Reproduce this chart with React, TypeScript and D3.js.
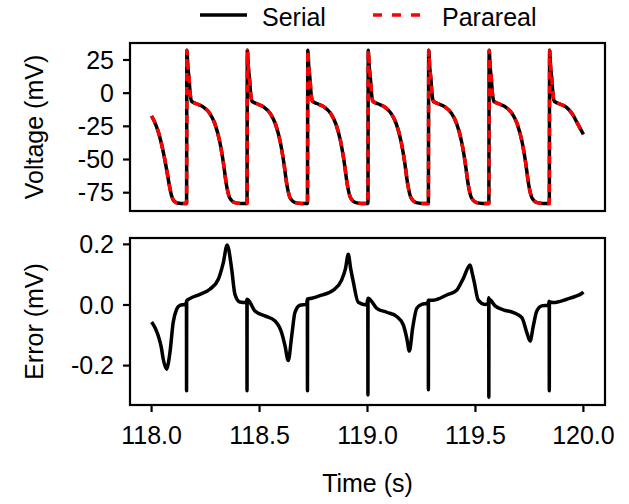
import React from 'react';
import * as d3 from 'd3';

// membrane voltage (mV) against time (s)
const serialVoltage: [number, number][] = [
  // tail of the previous beat
  [118.0, -17.2], [118.02, -24], [118.038, -33], [118.055, -45], [118.07, -58], [118.083, -70],
  [118.093, -77.5], [118.105, -81.5], [118.12, -82.8], [118.15, -83.2],
  // beat 1
  [118.162, -83.2], [118.1635, 32.3], [118.168, 20], [118.174, 10], [118.178, 1], [118.185, -6],
  [118.194, -7], [118.208, -8], [118.239, -10.4], [118.27, -15.4], [118.293, -23], [118.316, -36.8],
  [118.332, -51.8], [118.347, -69.4], [118.362, -79], [118.386, -82.5], [118.412, -83.1],
  // beat 2
  [118.442, -83.2], [118.4435, 32.3], [118.448, 20], [118.454, 10], [118.458, 1], [118.465, -6],
  [118.474, -7], [118.488, -8], [118.519, -10.4], [118.55, -15.4], [118.573, -23], [118.596, -36.8],
  [118.612, -51.8], [118.627, -69.4], [118.642, -79], [118.666, -82.5], [118.692, -83.1],
  // beat 3
  [118.722, -83.2], [118.7235, 32.3], [118.728, 20], [118.734, 10], [118.738, 1], [118.745, -6],
  [118.754, -7], [118.768, -8], [118.799, -10.4], [118.83, -15.4], [118.853, -23], [118.876, -36.8],
  [118.892, -51.8], [118.907, -69.4], [118.922, -79], [118.946, -82.5], [118.972, -83.1],
  // beat 4
  [119.002, -83.2], [119.0035, 32.3], [119.008, 20], [119.014, 10], [119.018, 1], [119.025, -6],
  [119.034, -7], [119.048, -8], [119.079, -10.4], [119.11, -15.4], [119.133, -23], [119.156, -36.8],
  [119.172, -51.8], [119.187, -69.4], [119.202, -79], [119.226, -82.5], [119.252, -83.1],
  // beat 5
  [119.282, -83.2], [119.2835, 32.3], [119.288, 20], [119.294, 10], [119.298, 1], [119.305, -6],
  [119.314, -7], [119.328, -8], [119.359, -10.4], [119.39, -15.4], [119.413, -23], [119.436, -36.8],
  [119.452, -51.8], [119.467, -69.4], [119.482, -79], [119.506, -82.5], [119.532, -83.1],
  // beat 6
  [119.562, -83.2], [119.5635, 32.3], [119.568, 20], [119.574, 10], [119.578, 1], [119.585, -6],
  [119.594, -7], [119.608, -8], [119.639, -10.4], [119.67, -15.4], [119.693, -23], [119.716, -36.8],
  [119.732, -51.8], [119.747, -69.4], [119.762, -79], [119.786, -82.5], [119.812, -83.1],
  // beat 7 (cut off at 120 s)
  [119.842, -83.2], [119.8435, 32.3], [119.848, 20], [119.854, 10], [119.858, 1], [119.865, -6],
  [119.874, -7], [119.888, -8], [119.919, -10.4], [119.95, -16], [119.973, -23], [120.0, -31],
];

// parareal result is on top of the serial one at this scale
const pararealVoltage = serialVoltage;

// parareal - serial (mV)
const errorTrace: [number, number][] = [
  [118.0, -0.056], [118.016, -0.075], [118.031, -0.102], [118.045, -0.14], [118.054, -0.179],
  [118.07, -0.212], [118.078, -0.19], [118.085, -0.157], [118.1, -0.058], [118.116, -0.014],
  [118.131, -0.001], [118.159, 0.003],
  [118.1615, 0.012], [118.162, -0.283], [118.1625, 0.014],
  [118.177, 0.021], [118.224, 0.035], [118.27, 0.052], [118.309, 0.085], [118.332, 0.139],
  [118.35, 0.198], [118.371, 0.118], [118.386, 0.035], [118.409, 0.01], [118.438, 0.008],
  [118.4415, 0.018], [118.442, -0.283], [118.4425, 0.019],
  [118.479, -0.02], [118.525, -0.036], [118.572, -0.053], [118.602, -0.091], [118.618, -0.135],
  [118.633, -0.183], [118.649, -0.102], [118.664, -0.025], [118.687, -0.001], [118.718, 0.002],
  [118.7215, 0.02], [118.722, -0.283], [118.7225, 0.019],
  [118.741, 0.022], [118.78, 0.031], [118.842, 0.049], [118.88, 0.082], [118.898, 0.12],
  [118.911, 0.167], [118.922, 0.12], [118.934, 0.077], [118.957, 0.009], [118.996, 0.0],
  [119.0015, 0.02], [119.002, -0.297], [119.0025, 0.022],
  [119.012, 0.018], [119.043, -0.011], [119.089, -0.024], [119.135, -0.038], [119.166, -0.066],
  [119.182, -0.11], [119.194, -0.152], [119.209, -0.077], [119.228, -0.011], [119.251, 0.002],
  [119.279, 0.006],
  [119.2815, 0.016], [119.282, -0.28], [119.2825, 0.016],
  [119.305, 0.016], [119.367, 0.033], [119.413, 0.049], [119.444, 0.088], [119.475, 0.132],
  [119.485, 0.105], [119.494, 0.077], [119.513, 0.016], [119.544, 0.002], [119.559, 0.004],
  [119.5615, 0.024], [119.562, -0.305], [119.5625, 0.02],
  [119.591, -0.003], [119.629, -0.016], [119.676, -0.025], [119.715, -0.042], [119.738, -0.091],
  [119.753, -0.119], [119.768, -0.069], [119.784, -0.02], [119.807, -0.003], [119.838, -0.001],
  [119.8415, 0.012], [119.842, -0.283], [119.8425, 0.01],
  [119.861, 0.008], [119.923, 0.019], [119.969, 0.03], [119.99, 0.037], [120.0, 0.043],
];

const timeTicks = [118.0, 118.5, 119.0, 119.5, 120.0];
const voltageTicks = [25, 0, -25, -50, -75];
const errorTicks = [0.2, 0.0, -0.2];

const FONT = 'Liberation Sans, Arial, Helvetica, sans-serif';
const FS = 25;
const LW = 3.5;

export default function App() {
  const width = 629;
  const height = 504;
  const left = 130;
  const right = 605;
  const top1 = 43;
  const bottom1 = 211;
  const top2 = 238;
  const bottom2 = 405;

  const x = d3.scaleLinear().domain([117.9, 120.1]).range([left, right]);
  const yV = d3.scaleLinear().domain([-88.8, 37.8]).range([bottom1, top1]);
  const yE = d3.scaleLinear().domain([-0.33, 0.221]).range([bottom2, top2]);

  const lineV = d3.line<[number, number]>()
    .x((d) => x(d[0]))
    .y((d) => yV(d[1]))
    .curve(d3.curveMonotoneX);
  const lineE = d3.line<[number, number]>()
    .x((d) => x(d[0]))
    .y((d) => yE(d[1]))
    .curve(d3.curveMonotoneX);

  return (
    <svg width={width} height={height} style={{ position: 'absolute', left: 0, top: 0 }} fontFamily={FONT}>
      <rect x={0} y={0} width={width} height={height} fill="#fff" />

      {/* legend */}
      <g>
        <line x1={200} x2={247} y1={15} y2={15} stroke="#000" strokeWidth={LW} />
        <text x={262} y={26} fontSize={FS} fill="#000">Serial</text>
        <line x1={373} x2={420} y1={15} y2={15} stroke="#ff0000" strokeWidth={LW} strokeDasharray="9,10" />
        <text x={442} y={26} fontSize={FS} fill="#000">Parareal</text>
      </g>

      {/* voltage panel */}
      <g>
        <path d={lineV(serialVoltage) ?? ''} fill="none" stroke="#000" strokeWidth={LW} strokeLinejoin="round" />
        <path d={lineV(pararealVoltage) ?? ''} fill="none" stroke="#ff0000" strokeWidth={LW} strokeDasharray="8,6" strokeLinejoin="round" />
        <rect x={left} y={top1} width={right - left} height={bottom1 - top1} fill="none" stroke="#000" strokeWidth={2.2} />
        {voltageTicks.map((t) => (
          <g key={t} transform={`translate(${left},${yV(t)})`}>
            <line x1={-7} x2={0} stroke="#000" strokeWidth={2.2} />
            <text x={-16} dy="0.35em" textAnchor="end" fontSize={FS}>{String(t)}</text>
          </g>
        ))}
        <text transform={`translate(43,${(top1 + bottom1) / 2}) rotate(-90)`} textAnchor="middle" fontSize={FS}>
          Voltage (mV)
        </text>
      </g>

      {/* error panel */}
      <g>
        <path d={lineE(errorTrace) ?? ''} fill="none" stroke="#000" strokeWidth={LW} strokeLinejoin="round" />
        <rect x={left} y={top2} width={right - left} height={bottom2 - top2} fill="none" stroke="#000" strokeWidth={2.2} />
        {errorTicks.map((t) => (
          <g key={t} transform={`translate(${left},${yE(t)})`}>
            <line x1={-7} x2={0} stroke="#000" strokeWidth={2.2} />
            <text x={-16} dy="0.35em" textAnchor="end" fontSize={FS}>{t.toFixed(1)}</text>
          </g>
        ))}
        {timeTicks.map((t) => (
          <g key={t} transform={`translate(${x(t)},${bottom2})`}>
            <line y1={0} y2={7} stroke="#000" strokeWidth={2.2} />
            <text y={39} textAnchor="middle" fontSize={FS}>{t.toFixed(1)}</text>
          </g>
        ))}
        <text transform={`translate(43,${(top2 + bottom2) / 2}) rotate(-90)`} textAnchor="middle" fontSize={FS}>
          Error (mV)
        </text>
        <text x={(left + right) / 2} y={492} textAnchor="middle" fontSize={FS}>Time (s)</text>
      </g>
    </svg>
  );
}
